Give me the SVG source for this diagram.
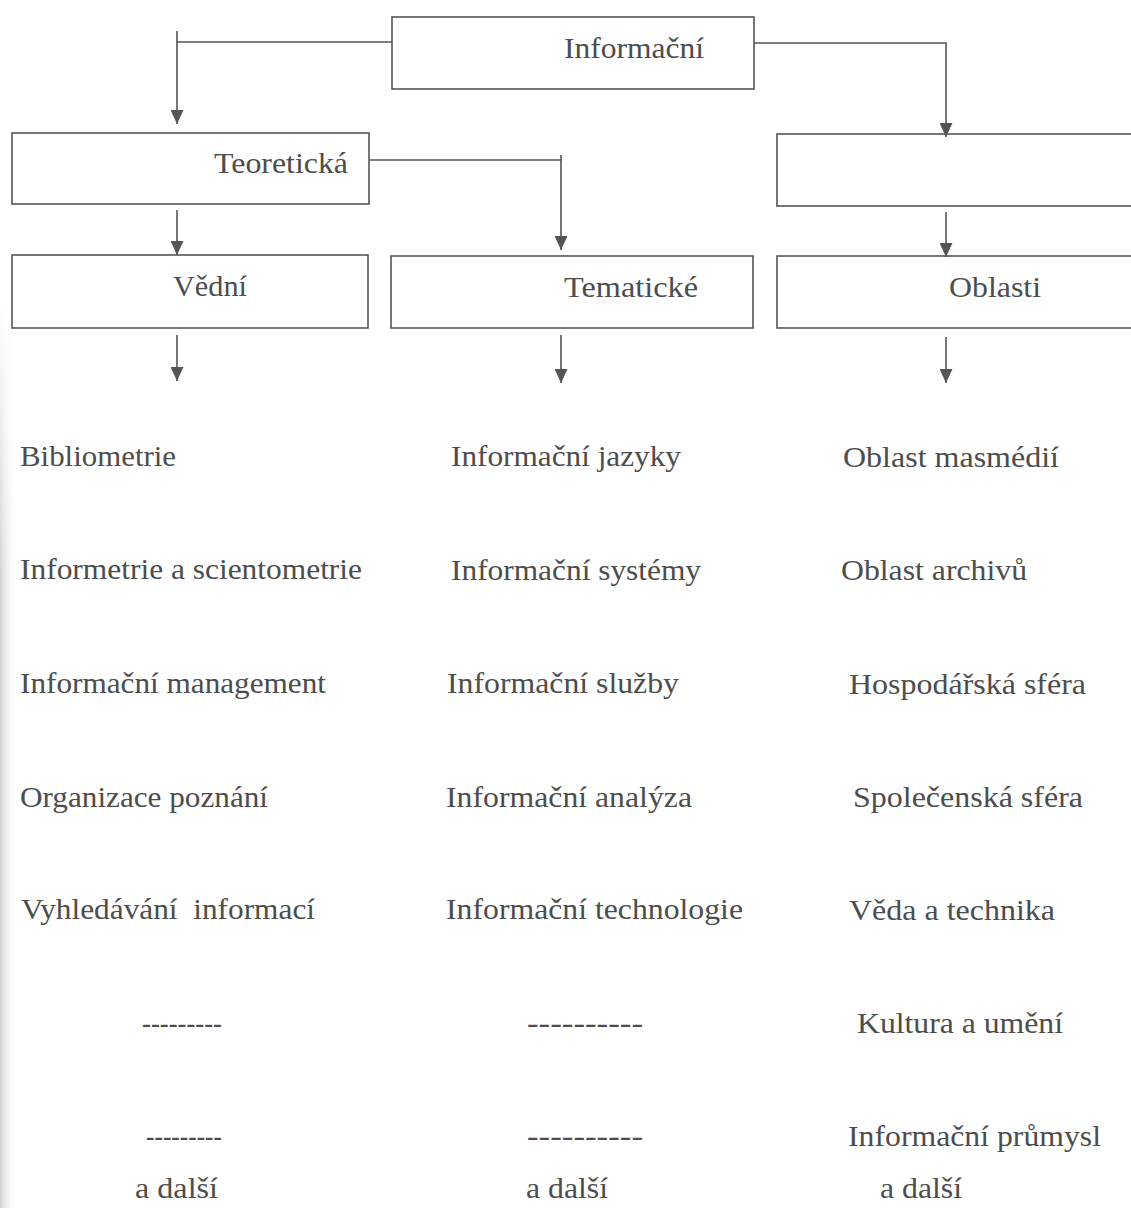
<svg xmlns="http://www.w3.org/2000/svg" width="1131" height="1208" viewBox="0 0 1131 1208">
<style>
  .box { fill: none; stroke: #555; stroke-width: 1.6; }
  .lbl { font-family: "Liberation Serif", "Times New Roman", serif; font-size: 30px; fill: #4d4d4d; }
  .con { fill: none; stroke: #555; stroke-width: 1.6; }
</style>
<defs>
  <marker id="arr" viewBox="0 0 14 13" refX="14" refY="6.5" markerWidth="14" markerHeight="13" markerUnits="userSpaceOnUse" orient="auto">
    <path d="M0,0 L14,6.5 L0,13 Z" fill="#555"/>
  </marker>
  <linearGradient id="shadow" x1="0" y1="0" x2="1" y2="0">
    <stop offset="0" stop-color="#d4d4d4"/>
    <stop offset="1" stop-color="#ffffff" stop-opacity="0"/>
  </linearGradient>
  <linearGradient id="fadeV" x1="0" y1="0" x2="0" y2="1">
    <stop offset="0" stop-color="#000"/>
    <stop offset="0.3" stop-color="#fff"/>
    <stop offset="1" stop-color="#fff"/>
  </linearGradient>
  <mask id="shadowMask" maskUnits="userSpaceOnUse" x="0" y="300" width="20" height="908">
    <rect x="0" y="300" width="20" height="908" fill="url(#fadeV)"/>
  </mask>
</defs>
<rect x="0" y="0" width="1131" height="1208" fill="#ffffff"/>
<rect x="0" y="300" width="18" height="908" fill="url(#shadow)" mask="url(#shadowMask)"/>

<g id="connectors">
  <path class="con" d="M177,31 V42"/>
  <path class="con" d="M392,42 H177 V124" marker-end="url(#arr)"/>
  <path class="con" d="M754,43 H946 V137" marker-end="url(#arr)"/>
  <path class="con" d="M561,155 V160"/>
  <path class="con" d="M369,160 H561 V250" marker-end="url(#arr)"/>
  <path class="con" d="M177,210 V255" marker-end="url(#arr)"/>
  <path class="con" d="M946,212 V257" marker-end="url(#arr)"/>
  <path class="con" d="M177,335 V381" marker-end="url(#arr)"/>
  <path class="con" d="M561,335 V383" marker-end="url(#arr)"/>
  <path class="con" d="M946,337 V383" marker-end="url(#arr)"/>
</g>

<g id="node-informacni">
  <rect class="box" x="392" y="17" width="362" height="72"/>
  <text class="lbl" x="564" y="58" textLength="140" lengthAdjust="spacingAndGlyphs">Informační</text>
</g>
<g id="node-teoreticka">
  <rect class="box" x="12" y="133" width="357" height="71"/>
  <text class="lbl" x="214" y="173" textLength="134" lengthAdjust="spacingAndGlyphs">Teoretická</text>
</g>
<g id="node-empty">
  <rect class="box" x="777" y="134" width="400" height="72"/>
</g>
<g id="node-vedni">
  <rect class="box" x="12" y="255" width="356" height="73"/>
  <text class="lbl" x="173" y="296" textLength="74" lengthAdjust="spacingAndGlyphs">Vědní</text>
</g>
<g id="node-tematicke">
  <rect class="box" x="391" y="256" width="362" height="72"/>
  <text class="lbl" x="564" y="297" textLength="134" lengthAdjust="spacingAndGlyphs">Tematické</text>
</g>
<g id="node-oblasti">
  <rect class="box" x="777" y="256" width="400" height="72"/>
  <text class="lbl" x="949" y="297" textLength="92" lengthAdjust="spacingAndGlyphs">Oblasti</text>
</g>

<g id="list-vedni">
  <text class="lbl" x="20" y="466" textLength="156" lengthAdjust="spacingAndGlyphs">Bibliometrie</text>
  <text class="lbl" x="20" y="579" textLength="342" lengthAdjust="spacingAndGlyphs">Informetrie a scientometrie</text>
  <text class="lbl" x="20" y="693" textLength="306" lengthAdjust="spacingAndGlyphs">Informační management</text>
  <text class="lbl" x="20" y="807" textLength="248" lengthAdjust="spacingAndGlyphs">Organizace poznání</text>
  <text class="lbl" x="21" y="919" textLength="294" lengthAdjust="spacingAndGlyphs" xml:space="preserve">Vyhledávání  informací</text>
  <text class="lbl" x="142" y="1033" textLength="80" lengthAdjust="spacingAndGlyphs">---------</text>
  <text class="lbl" x="146" y="1146" textLength="76" lengthAdjust="spacingAndGlyphs">---------</text>
  <text class="lbl" x="135" y="1198" textLength="83" lengthAdjust="spacingAndGlyphs">a další</text>
</g>

<g id="list-tematicke">
  <text class="lbl" x="451" y="466" textLength="230" lengthAdjust="spacingAndGlyphs">Informační jazyky</text>
  <text class="lbl" x="451" y="580" textLength="250" lengthAdjust="spacingAndGlyphs">Informační systémy</text>
  <text class="lbl" x="447" y="693" textLength="232" lengthAdjust="spacingAndGlyphs">Informační služby</text>
  <text class="lbl" x="446" y="807" textLength="246" lengthAdjust="spacingAndGlyphs">Informační analýza</text>
  <text class="lbl" x="446" y="919" textLength="297" lengthAdjust="spacingAndGlyphs">Informační technologie</text>
  <text class="lbl" x="527" y="1033" textLength="116" lengthAdjust="spacingAndGlyphs">----------</text>
  <text class="lbl" x="527" y="1146" textLength="116" lengthAdjust="spacingAndGlyphs">----------</text>
  <text class="lbl" x="526" y="1198" textLength="82" lengthAdjust="spacingAndGlyphs">a další</text>
</g>

<g id="list-oblasti">
  <text class="lbl" x="843" y="467" textLength="216" lengthAdjust="spacingAndGlyphs">Oblast masmédií</text>
  <text class="lbl" x="841" y="580" textLength="186" lengthAdjust="spacingAndGlyphs">Oblast archivů</text>
  <text class="lbl" x="849" y="694" textLength="237" lengthAdjust="spacingAndGlyphs">Hospodářská sféra</text>
  <text class="lbl" x="853" y="807" textLength="230" lengthAdjust="spacingAndGlyphs">Společenská sféra</text>
  <text class="lbl" x="849" y="920" textLength="206" lengthAdjust="spacingAndGlyphs">Věda a technika</text>
  <text class="lbl" x="857" y="1033" textLength="206" lengthAdjust="spacingAndGlyphs">Kultura a umění</text>
  <text class="lbl" x="848" y="1146" textLength="253" lengthAdjust="spacingAndGlyphs">Informační průmysl</text>
  <text class="lbl" x="880" y="1198" textLength="82" lengthAdjust="spacingAndGlyphs">a další</text>
</g>
</svg>
